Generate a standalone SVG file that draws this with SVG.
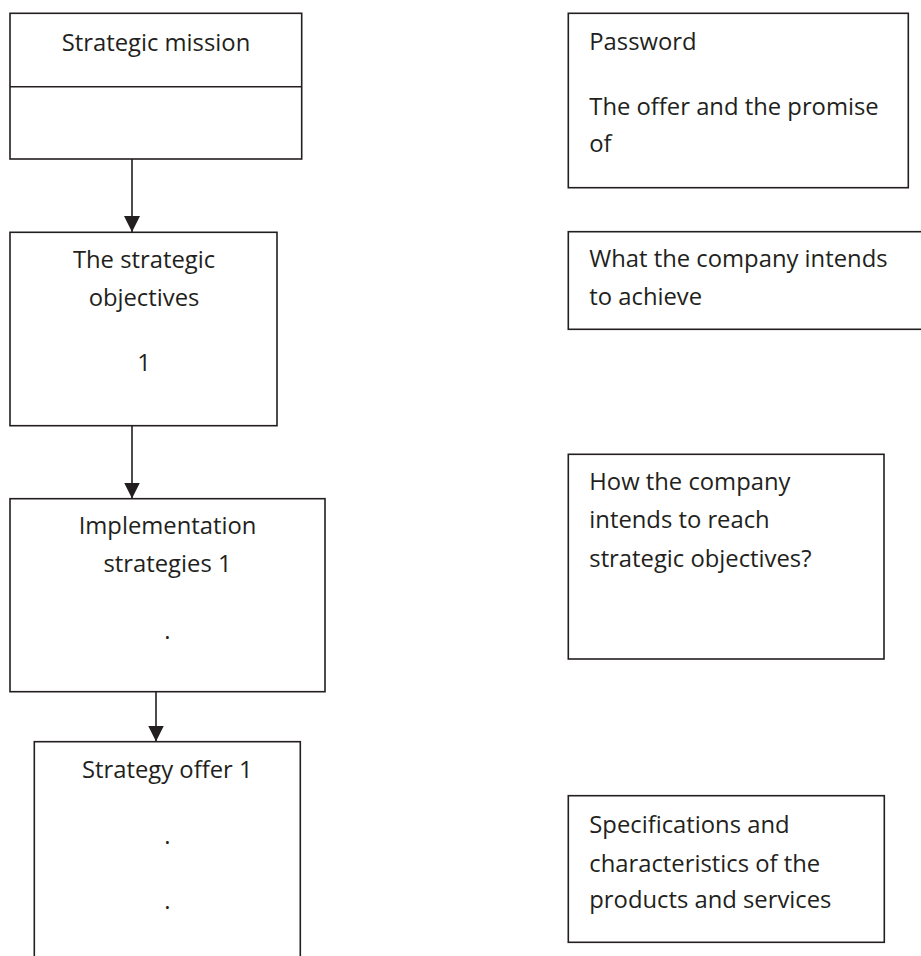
<svg xmlns="http://www.w3.org/2000/svg" width="921" height="956" viewBox="0 0 921 956">
<style>
  .box { fill: #ffffff; stroke: #231f20; stroke-width: 1.6; }
  .ln { stroke: #231f20; stroke-width: 1.6; fill: none; }
  .t { font-family: "Open Sans", "Noto Sans", sans-serif; font-size: 23.8px; fill: #231f20; }
  .c { text-anchor: middle; }
</style>
<defs>
  <marker id="ah" markerWidth="16" markerHeight="16" refX="16" refY="8" orient="auto" markerUnits="userSpaceOnUse">
    <path d="M0,0 L16,8 L0,16 z" fill="#231f20"/>
  </marker>
</defs>
<rect width="921" height="956" fill="#ffffff"/>

<g id="connectors">
  <line class="ln" x1="132" y1="159" x2="132" y2="232" marker-end="url(#ah)"/>
  <line class="ln" x1="132" y1="426" x2="132" y2="498.5" marker-end="url(#ah)"/>
  <line class="ln" x1="156" y1="692" x2="156" y2="741.5" marker-end="url(#ah)"/>
</g>

<g id="strategic-mission">
  <rect class="box" x="10" y="13.3" width="291.7" height="145.7"/>
  <line class="ln" x1="10" y1="86.7" x2="301.7" y2="86.7"/>
  <text class="t c" x="156" y="50.7">Strategic mission</text>
</g>

<g id="strategic-objectives">
  <rect class="box" x="10" y="232.3" width="267" height="193.4"/>
  <text class="t c" x="144" y="267.7">The strategic</text>
  <text class="t c" x="144" y="306">objectives</text>
  <text class="t c" x="144" y="371">1</text>
</g>

<g id="implementation-strategies">
  <rect class="box" x="10" y="498.7" width="315" height="193"/>
  <text class="t c" x="167.5" y="534.3">Implementation</text>
  <text class="t c" x="167.5" y="571.7">strategies 1</text>
  <text class="t c" x="167.5" y="639">.</text>
</g>

<g id="strategy-offer">
  <rect class="box" x="34.3" y="741.7" width="266" height="260"/>
  <text class="t c" x="167.3" y="778.3">Strategy offer 1</text>
  <text class="t c" x="167.5" y="844">.</text>
  <text class="t c" x="167.5" y="909">.</text>
</g>

<g id="password">
  <rect class="box" x="568.3" y="13.3" width="340" height="174.4"/>
  <text class="t" x="589.3" y="50">Password</text>
  <text class="t" x="589.3" y="115">The offer and the promise</text>
  <text class="t" x="589.3" y="151.7">of</text>
</g>

<g id="what-to-achieve">
  <rect class="box" x="568.3" y="231.7" width="370" height="97.6"/>
  <text class="t" x="589.3" y="267.3">What the company intends</text>
  <text class="t" x="589.3" y="305">to achieve</text>
</g>

<g id="how-to-reach">
  <rect class="box" x="568.3" y="454.3" width="315.7" height="204.7"/>
  <text class="t" x="589.3" y="490">How the company</text>
  <text class="t" x="589.3" y="528.3">intends to reach</text>
  <text class="t" x="589.3" y="566.7">strategic objectives?</text>
</g>

<g id="specifications">
  <rect class="box" x="568.3" y="795.7" width="316" height="146.6"/>
  <text class="t" x="589.3" y="833.3">Specifications and</text>
  <text class="t" x="589.3" y="871.7">characteristics of the</text>
  <text class="t" x="589.3" y="908.3">products and services</text>
</g>
</svg>
